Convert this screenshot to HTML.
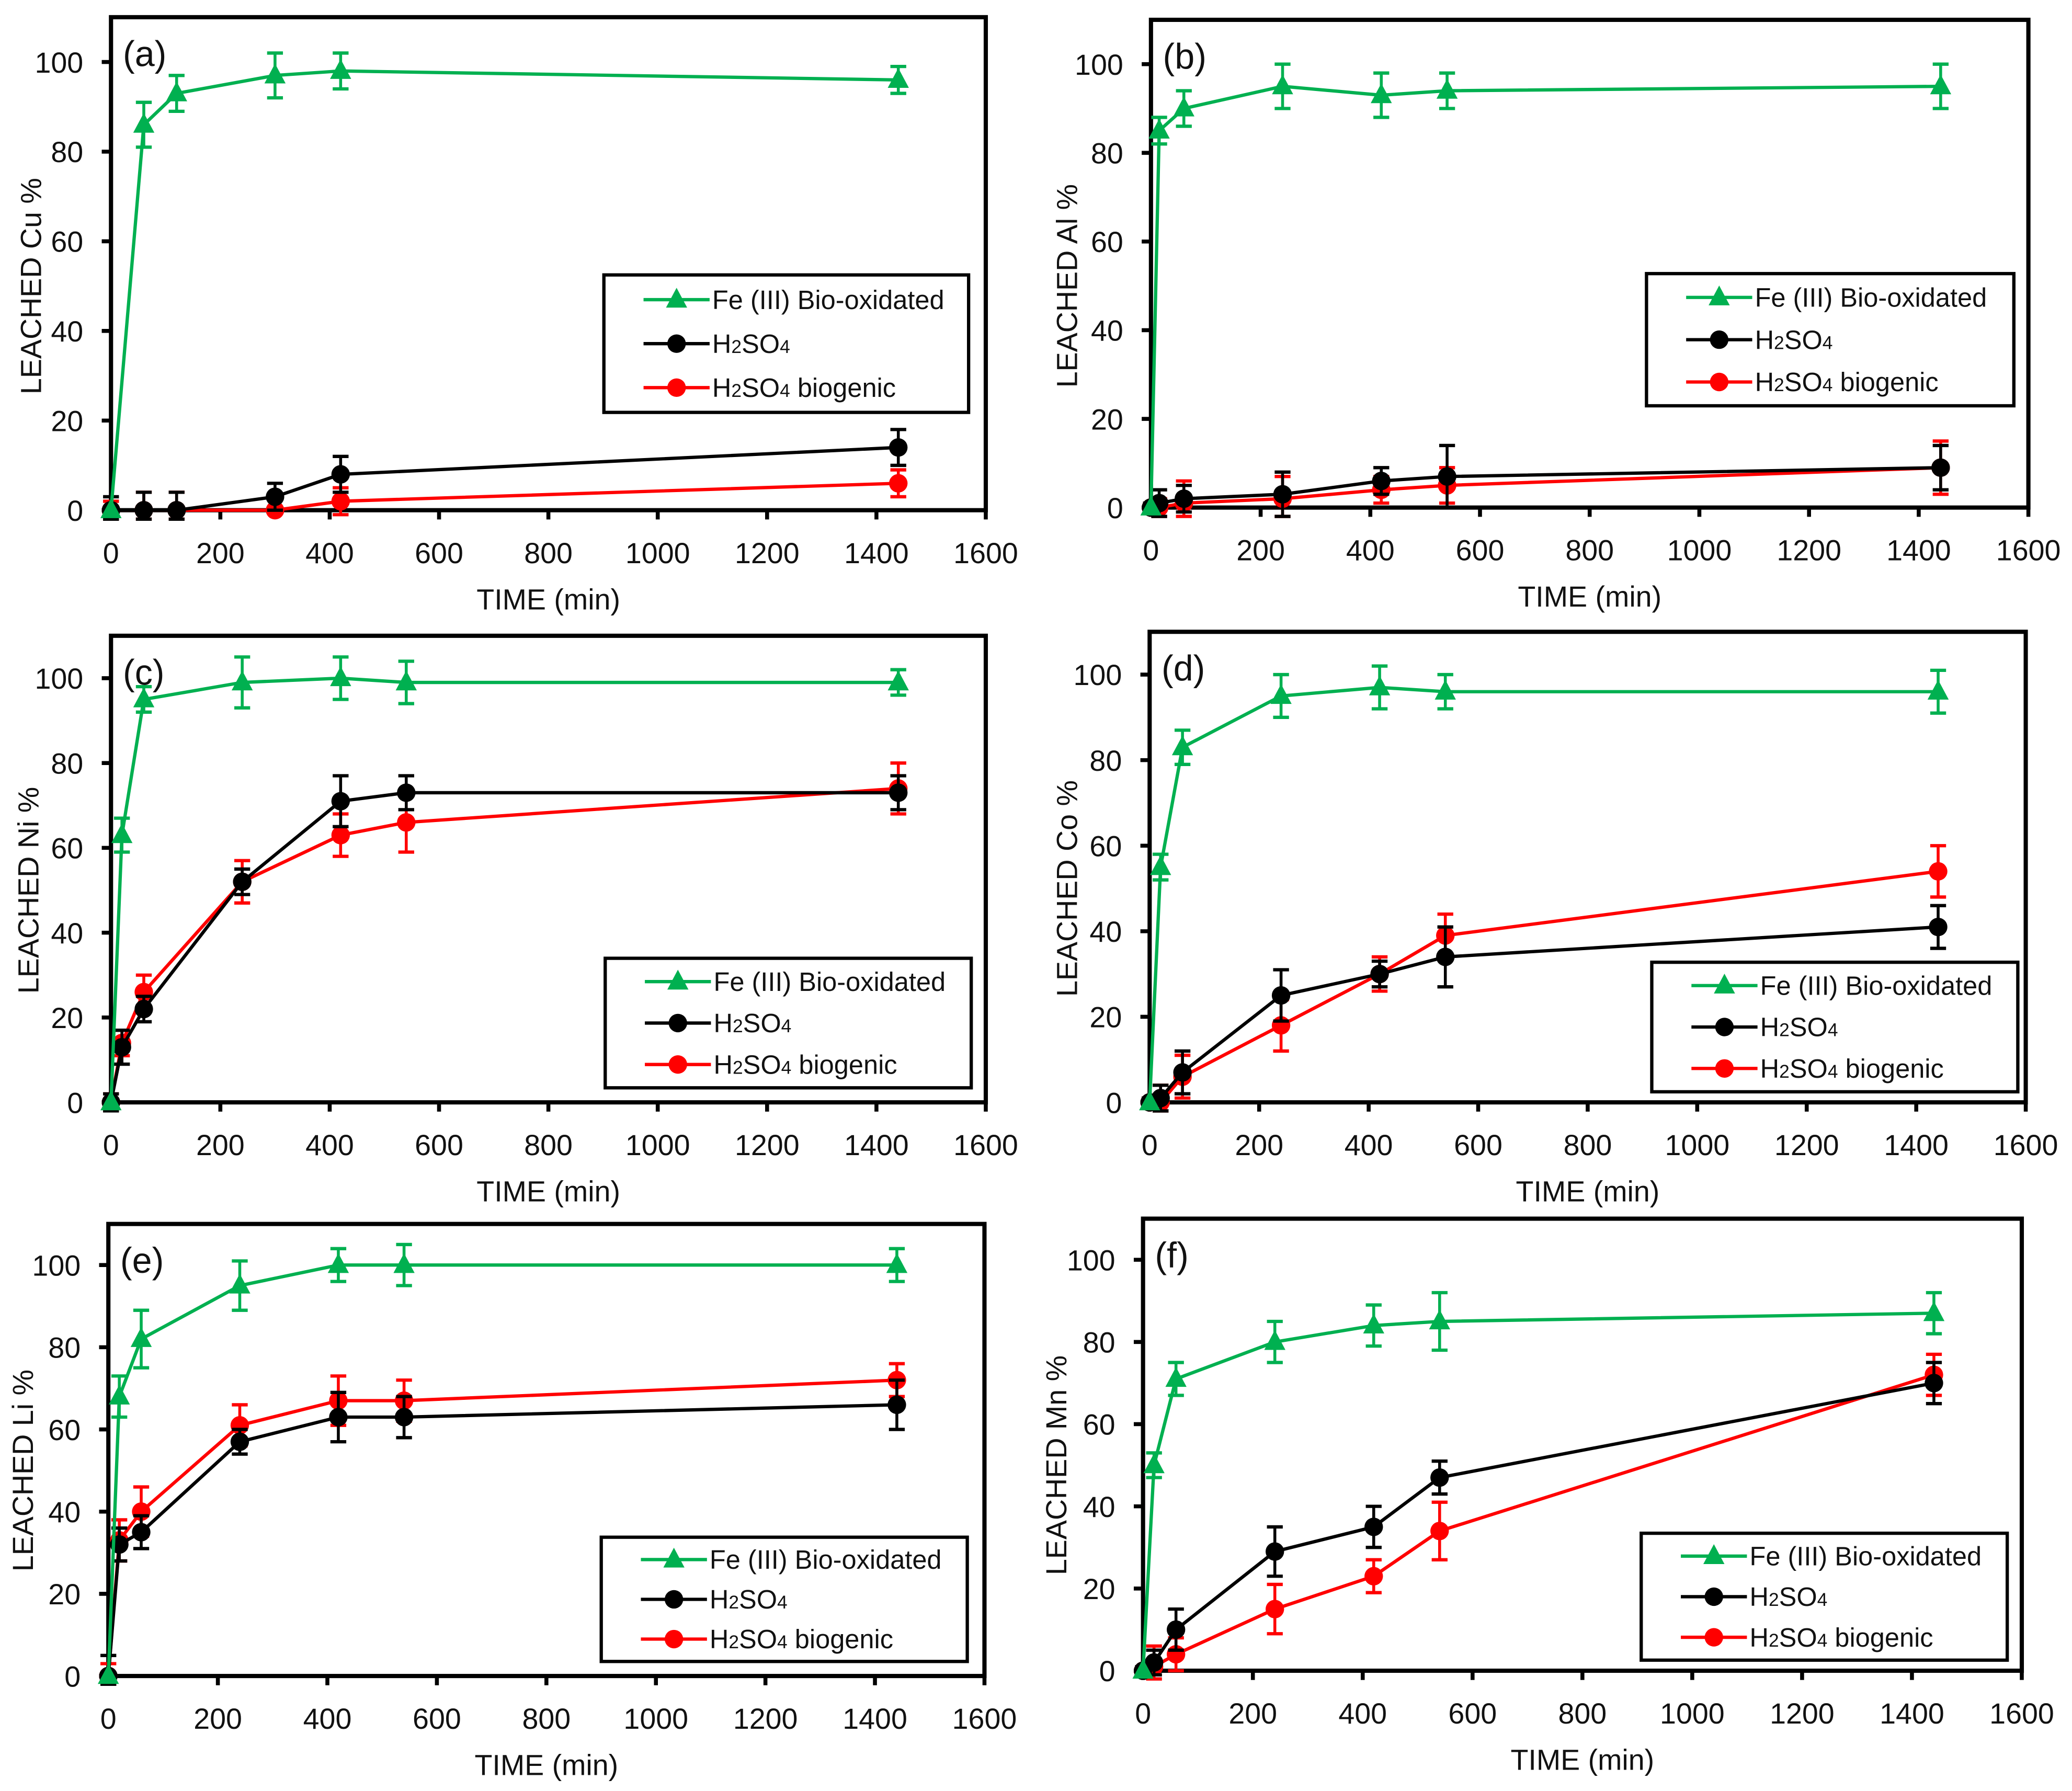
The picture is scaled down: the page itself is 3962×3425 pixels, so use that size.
<!DOCTYPE html>
<html><head><meta charset="utf-8"><style>
html,body{margin:0;padding:0;background:#fff;}
svg{display:block;font-family:"Liberation Sans",sans-serif;}
</style></head><body>
<svg id="fig" width="3962" height="3425" viewBox="0 0 1568 1355" preserveAspectRatio="none" xmlns="http://www.w3.org/2000/svg"></svg>
<script>
// ---- data ----
const panelLetters = ["a","b","c","d","e","f"];
const metals = ["Cu","Al","Ni","Co","Li","Mn"];
const xTicks = [0,200,400,600,800,1000,1200,1400,1600];
const yTicks = [0,20,40,60,80,100];
const seriesNames = ["Fe (III) Bio-oxidated","H2SO4","H2SO4 biogenic"];
const timesA = [0,60,120,300,420,1440];
const timesB = [0,15,60,240,420,540,1440];
const timesC = [0,20,60,240,420,540,1440];
const feA=[0,86,93,97,98,96], feAerr=[0,5,4,5,4,3];
const hA=[0,0,0,3,8,14], hAerr=[3,4,4,3,4,4];
const bA=[0,0,0,0,2,6], bAerr=[2,4,4,0,3,3];
const feB=[0,85,90,95,93,94,95], feBerr=[0,3,4,5,5,4,5];
const hB=[0,1,2,3,6,7,9], hBerr=[1,3,3,5,3,7,5];
const bB=[0,0,1,2,4,5,9], bBerr=[1,2,5,5,3,4,6];
const feC=[0,63,95,99,100,99,99], feCerr=[0,4,3,6,5,5,3];
const hC=[0,13,22,52,71,73,73], hCerr=[2,4,3,3,6,4,4];
const bC=[0,14,26,52,63,66,74], bCerr=[2,3,4,5,5,7,6];
const feD=[0,55,83,95,97,96,96], feDerr=[0,3,4,5,5,4,5];
const hD=[0,1,7,25,30,34,41], hDerr=[1,3,5,6,3,7,5];
const bD=[0,0,6,18,30,39,54], bDerr=[1,4,5,6,4,5,6];
const feE=[0,68,82,95,100,100,100], feEerr=[0,5,7,6,4,5,4];
const hE=[0,32,35,57,63,63,66], hEerr=[5,4,4,3,6,5,6];
const bE=[0,33,40,61,67,67,72], bEerr=[3,5,6,5,6,5,4];
const feF=[0,50,71,80,84,85,87], feFerr=[0,3,4,5,5,7,5];
const hF=[0,2,10,29,35,47,70], hFerr=[1,3,5,6,5,4,5];
const bF=[0,1,4,15,23,34,72], bFerr=[1,5,4,6,4,7,5];

// ---- layout ----
const layout=[
 {L:84,R:746,T:13,B:386,lx:457,ly:208,lw:276,lh:104,yl:24},
 {L:871,R:1535,T:15,B:384,lx:1246,ly:207,lw:278,lh:100,yl:808},
 {L:84,R:746,T:481,B:834,lx:458,ly:725,lw:277,lh:98,yl:22},
 {L:870,R:1533,T:478,B:834,lx:1250,ly:728,lw:277,lh:98,yl:808},
 {L:82,R:745,T:926,B:1268,lx:455,ly:1163,lw:277,lh:94,yl:18},
 {L:865,R:1530,T:922,B:1264,lx:1242,ly:1160,lw:277,lh:96,yl:800}
];
const pdata=[
 [timesA,[[feA,feAerr],[hA,hAerr],[bA,bAerr]]],
 [timesB,[[feB,feBerr],[hB,hBerr],[bB,bBerr]]],
 [timesC,[[feC,feCerr],[hC,hCerr],[bC,bCerr]]],
 [timesC,[[feD,feDerr],[hD,hDerr],[bD,bDerr]]],
 [timesC,[[feE,feEerr],[hE,hEerr],[bE,bEerr]]],
 [timesC,[[feF,feFerr],[hF,hFerr],[bF,bFerr]]]
];
const colors=["#00b050","#000000","#ff0000"];
const NS="http://www.w3.org/2000/svg";
const svg=document.getElementById("fig");
function mk(tag,attrs,parent){const e=document.createElementNS(NS,tag);for(const k in attrs)e.setAttribute(k,attrs[k]);(parent||svg).appendChild(e);return e;}
function marker(g,kind,x,y,c){
 if(kind===0){const m=mk("polygon",{points:`${x},${y-9} ${x-8},${y+6} ${x+8},${y+6}`,fill:c},g);return m;}
 return mk("circle",{cx:x,cy:y,r:7,fill:c},g);
}
function labelText(el,name){
 if(name.startsWith("H2SO4")){
  el.appendChild(document.createTextNode("H"));
  const s1=mk("tspan",{"font-size":"14"},el);s1.textContent="2";
  const s2=mk("tspan",{},el);s2.textContent="SO";
  const s3=mk("tspan",{"font-size":"14"},el);s3.textContent="4";
  if(name.length>5){const s4=mk("tspan",{},el);s4.textContent=" biogenic";}
 } else el.textContent=name;
}
layout.forEach((P,pi)=>{
 const g=mk("g",{});
 
 
 const sx=v=>P.L+(P.R-P.L)*v/1600;
 const sy=v=>P.B-(P.B-P.T)*v/110;
 const fr=mk("rect",{x:P.L,y:P.T,width:P.R-P.L,height:P.B-P.T,fill:"none",stroke:"#000","stroke-width":3.2},g);
 
 
 xTicks.forEach(t=>{
  mk("line",{x1:sx(t),x2:sx(t),y1:P.B,y2:P.B+7,stroke:"#000","stroke-width":3},g);
  const tx=mk("text",{x:sx(t),y:P.B+40,"font-size":22,"text-anchor":"middle",fill:"#111"},g);
  tx.textContent=t;
  
  
 });
 yTicks.forEach(t=>{
  mk("line",{x1:P.L-7,x2:P.L,y1:sy(t),y2:sy(t),stroke:"#000","stroke-width":3},g);
  const tx=mk("text",{x:P.L-21,y:sy(t)+8,"font-size":22,"text-anchor":"end",fill:"#111"},g);
  tx.textContent=t;
  
  
 });
 const xt=mk("text",{x:(P.L+P.R)/2,y:P.B+75,"font-size":22,"text-anchor":"middle",fill:"#111"},g);
 xt.textContent="TIME (min)";
 
 
 const ymid=(sy(0)+sy(100))/2;
 const yt=mk("text",{x:P.yl,y:ymid,"font-size":22,"text-anchor":"middle",fill:"#111",transform:`rotate(-90 ${P.yl} ${ymid}) translate(0 7)`},g);
 yt.textContent="LEACHED "+metals[pi]+" %";
 
 
 const pl=mk("text",{x:P.L+9,y:P.T+37,"font-size":27,fill:"#111"},g);
 pl.textContent="("+panelLetters[pi]+")";
 
 
 const [xs,ser]=pdata[pi];
 [2,1,0].forEach(si=>{
  const [vals,errs]=ser[si];const c=colors[si];
  const sg=mk("g",{},g);
  
  
  mk("polyline",{points:xs.map((x,i)=>sx(x)+","+sy(vals[i])).join(" "),fill:"none",stroke:c,"stroke-width":2.5},sg);
  xs.forEach((x,i)=>{
   const e=errs[i];
   if(e>0){
    const X=sx(x),y1=sy(vals[i]+e),y2=sy(Math.max(vals[i]-e,-2));
    mk("line",{x1:X,x2:X,y1:y1,y2:y2,stroke:c,"stroke-width":2.2},sg);
    mk("line",{x1:X-6,x2:X+6,y1:y1,y2:y1,stroke:c,"stroke-width":2.5},sg);
    mk("line",{x1:X-6,x2:X+6,y1:y2,y2:y2,stroke:c,"stroke-width":2.5},sg);
   }
   const m=marker(sg,si,sx(x),sy(vals[i]),c);
   
   
  });
 });
 const lg=mk("g",{},g);
 
 
 mk("rect",{x:P.lx,y:P.ly,width:P.lw,height:P.lh,fill:"#fff",stroke:"#000","stroke-width":2.5},lg);
 const rows=[0.18,0.5,0.82];
 seriesNames.forEach((n,si)=>{
  const y=P.ly+P.lh*rows[si];
  const eg=mk("g",{},lg);
  
  
  mk("line",{x1:P.lx+30,x2:P.lx+80,y1:y,y2:y,stroke:colors[si],"stroke-width":2.5},eg);
  marker(eg,si,P.lx+55,y,colors[si]);
  const t=mk("text",{x:P.lx+82,y:y+7,"font-size":20,fill:"#111"},eg);
  labelText(t,n);
 });
});
</script>
</body></html>
